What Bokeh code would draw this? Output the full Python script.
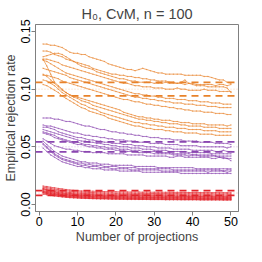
from bokeh.plotting import figure
from bokeh.models import Span, FixedTicker, PrintfTickFormatter
from bokeh.embed import file_html
from bokeh.resources import INLINE

projections = list(range(1, 51))

# rejection rates x 1000
orange_1 = [139,139,138,138,137,136,134,132,131,131, 130,130,128,127,126,125,124,122,121,120, 119,118,117,117,116,117,118,117,116,115, 114,114,113,113,113,113,113,112,112,112, 112,112,111,111,110,109,108,108,106,105]
orange_2 = [133,133,132,130,129,128,126,125,124,123, 122,121,120,118,117,116,115,114,113,113, 112,112,111,111,110,110,109,109,108,108, 107,107,107,106,106,105,106,108,105,104, 103,103,103,102,102,102,102,102,101,97]
orange_3 = [128,129,130,131,131,130,128,126,124,122, 120,119,118,117,115,114,113,112,111,110, 109,109,108,107,107,106,106,106,106,105, 105,105,106,105,105,105,105,104,105,105, 104,104,104,104,104,103,104,104,103,104]
orange_4 = [126,126,125,124,123,121,120,119,118,117, 116,115,114,113,112,111,110,109,108,107, 106,105,105,104,103,103,102,102,102,101, 101,101,100,100,100,101,100,100,99,99, 99,99,100,99,99,99,98,98,98,98]
orange_5 = [125,124,122,120,118,116,114,113,112,111, 110,109,108,107,106,105,104,103,102,101, 100,99,98,97,96,96,95,95,94,94, 93,93,92,92,92,91,91,91,90,90, 90,89,89,89,88,88,88,87,87,87]
orange_6 = [118,117,116,115,114,113,112,110,109,108, 107,106,105,104,103,102,101,100,99,98, 97,96,95,94,93,93,92,92,91,91, 90,90,89,89,88,88,88,87,87,87, 86,86,86,85,85,85,84,84,84,84]
orange_7 = [112,112,111,110,109,107,106,105,104,103, 102,101,100,99,98,97,96,95,94,93, 92,91,91,90,89,89,88,87,87,86, 86,85,85,84,84,83,83,82,82,81, 81,81,80,80,80,79,79,79,78,78]
orange_8 = [126,120,113,106,103,100,97,95,94,93, 92,91,90,89,88,87,86,85,84,83, 82,80,79,78,77,76,76,75,75,74, 74,73,73,73,72,72,71,71,71,70, 70,70,70,69,69,69,69,69,68,69]
orange_9 = [113,111,108,105,102,99,97,95,93,92, 90,89,88,86,85,84,83,82,81,80, 79,78,77,76,75,74,74,73,73,72, 72,71,71,70,70,70,69,69,68,68, 68,68,67,67,67,67,66,66,66,66]
orange_10 = [108,107,105,103,100,97,95,93,91,89, 87,86,84,83,82,80,79,78,77,76, 75,74,73,72,71,71,70,70,69,69, 68,68,67,67,67,66,66,66,65,65, 65,65,64,64,64,64,63,63,63,63]
orange_11 = [104,103,101,99,97,94,92,90,88,86, 84,83,81,80,79,78,77,75,74,73, 72,71,70,69,68,68,67,66,66,65, 65,65,64,64,63,63,63,62,62,62, 62,61,61,61,61,60,60,60,60,60]

purple_1 = [75,75,75,74,74,73,72,72,71,70, 69,68,68,67,66,65,65,64,63,63, 62,62,61,61,60,60,59,59,58,58, 58,57,57,57,56,56,56,55,55,55, 55,54,54,54,54,53,53,53,53,52]
purple_2 = [69,68,68,67,66,65,64,63,62,62, 61,60,60,59,59,58,58,57,57,56, 56,56,55,55,55,54,54,54,53,53, 53,53,52,52,52,52,51,51,51,51, 51,50,50,50,50,50,50,50,49,50]
purple_3 = [67,67,66,65,63,62,61,60,59,58, 58,57,56,56,55,55,54,54,53,53, 53,52,52,52,51,51,51,50,50,50, 49,49,49,49,48,48,48,48,48,47, 47,47,47,47,47,46,46,47,46,46]
purple_4 = [65,64,63,62,61,60,59,58,57,56, 55,55,54,54,53,53,52,52,51,51, 50,50,50,49,49,49,48,48,48,47, 47,47,47,46,46,46,46,46,45,45, 45,45,45,45,44,44,44,44,44,44]
purple_5 = [63,62,61,60,58,57,56,55,54,54, 53,52,52,51,51,50,50,49,49,49, 48,48,48,47,47,47,46,46,46,46, 45,45,45,45,44,44,44,44,44,43, 43,43,43,43,43,42,42,42,42,42]
purple_6 = [62,61,60,58,57,56,55,54,53,52, 52,51,50,50,49,49,48,48,48,47, 47,47,46,46,46,45,45,45,45,44, 44,44,44,44,43,43,43,43,42,43, 43,42,42,42,42,42,41,41,40,38]
purple_7 = [57,55,53,51,50,49,48,48,47,47, 46,46,46,45,45,45,45,44,44,44, 44,44,43,43,43,43,43,42,42,42, 42,42,42,41,41,42,42,41,41,41, 41,41,41,41,40,40,41,40,40,40]
purple_8 = [55,52,49,46,44,42,41,40,39,38, 37,37,36,36,36,35,35,35,34,34, 34,34,34,34,33,33,33,33,33,33, 32,32,32,32,32,32,32,32,32,32, 31,31,31,31,31,31,31,31,31,31]
purple_9 = [53,50,47,44,42,40,39,38,37,36, 36,35,35,34,34,34,33,33,33,33, 32,32,32,32,32,31,31,31,31,31, 31,31,31,31,30,30,30,30,30,30, 30,30,30,30,30,30,30,29,30,30]
purple_10 = [52,49,46,43,41,39,38,37,36,35, 34,34,33,33,33,32,32,32,31,31, 31,31,31,30,30,30,30,30,30,30, 30,29,29,29,29,29,29,29,29,29, 29,29,29,28,29,29,29,29,28,29]
purple_11 = [49,46,43,41,39,37,36,35,34,33, 33,32,32,31,31,31,30,30,30,30, 29,29,29,29,29,29,28,28,28,28, 28,28,28,28,28,28,27,27,27,27, 27,27,27,27,27,27,27,27,27,27]

red_1 = [16.0,15.6,15.0,14.5,14.0,13.6,13.0,12.6,12.3,12.0, 11.8,11.7,11.5,11.6,11.4,11.3,11.2,11.2,11.0,11.1, 11.0,10.9,10.9,10.8,10.9,10.8,10.7,10.8,10.7,10.7, 10.6,10.7,10.6,10.6,10.5,10.6,10.5,10.5,10.5,10.4, 10.5,10.4,10.4,10.4,10.3,10.4,10.3,10.3,10.3,10.2]
red_2 = [15.0,14.6,14.0,13.4,12.9,12.4,12.0,11.6,11.2,11.0, 10.8,10.6,10.5,10.4,10.3,10.2,10.1,10.1,10.0,9.9, 9.9,9.8,9.8,9.8,9.7,9.7,9.7,9.6,9.6,9.6, 9.6,9.5,9.5,9.5,9.5,9.5,9.4,9.4,9.4,9.4, 9.4,9.3,9.4,9.3,9.3,9.3,9.3,9.2,9.3,9.2]
red_3 = [14.0,13.5,13.0,12.4,11.8,11.3,10.9,10.5,10.2,10.0, 9.8,9.6,9.5,9.4,9.3,9.2,9.1,9.1,9.0,9.0, 8.9,8.9,8.8,8.8,8.8,8.7,8.7,8.7,8.6,8.6, 8.6,8.6,8.5,8.5,8.5,8.5,8.5,8.4,8.4,8.4, 8.4,8.4,8.3,8.4,8.3,8.3,8.3,8.3,8.2,8.3]
red_4 = [13.5,12.8,12.0,11.4,10.9,10.4,10.0,9.7,9.4,9.2, 9.0,8.9,8.7,8.6,8.5,8.4,8.3,8.3,8.2,8.1, 8.1,8.0,8.0,8.0,7.9,7.9,7.8,7.8,7.8,7.8, 7.7,7.7,7.7,7.7,7.6,7.6,7.6,7.6,7.6,7.5, 7.5,7.5,7.5,7.5,7.5,7.4,7.4,7.4,7.4,7.4]
red_5 = [13.0,12.2,11.4,10.8,10.2,9.8,9.4,9.1,8.8,8.6, 8.4,8.3,8.1,8.0,7.9,7.8,7.8,7.7,7.6,7.6, 7.5,7.5,7.4,7.4,7.4,7.3,7.3,7.3,7.2,7.2, 7.2,7.2,7.1,7.1,7.1,7.1,7.0,7.0,7.0,7.0, 7.0,7.0,6.9,6.9,6.9,6.9,6.9,6.9,6.8,6.8]
red_6 = [12.0,11.4,10.7,10.1,9.6,9.2,8.8,8.5,8.2,8.0, 7.8,7.7,7.5,7.4,7.3,7.2,7.1,7.1,7.0,6.9, 6.9,6.8,6.8,6.8,6.7,6.7,6.6,6.6,6.6,6.6, 6.5,6.5,6.5,6.5,6.4,6.4,6.4,6.4,6.4,6.3, 6.3,6.3,6.3,6.3,6.3,6.2,6.2,6.2,6.2,6.2]
red_7 = [11.5,10.8,10.1,9.5,9.0,8.6,8.2,7.9,7.7,7.5, 7.3,7.2,7.0,6.9,6.8,6.7,6.7,6.6,6.5,6.5, 6.4,6.4,6.3,6.3,6.3,6.2,6.2,6.2,6.1,6.1, 6.1,6.1,6.0,6.0,6.0,6.0,5.9,5.9,5.9,5.9, 5.9,5.8,5.8,5.8,5.8,5.8,5.8,5.7,5.7,5.7]
red_8 = [11.0,10.3,9.6,9.0,8.5,8.1,7.7,7.4,7.2,7.0, 6.8,6.7,6.5,6.4,6.3,6.2,6.2,6.1,6.0,6.0, 5.9,5.9,5.8,5.8,5.8,5.7,5.7,5.7,5.6,5.6, 5.6,5.6,5.5,5.5,5.5,5.5,5.4,5.4,5.4,5.4, 5.4,5.3,5.3,5.3,5.3,5.3,5.3,5.2,5.2,5.2]
red_9 = [10.5,9.8,9.1,8.5,8.0,7.6,7.2,6.9,6.7,6.5, 6.3,6.2,6.0,5.9,5.8,5.7,5.7,5.6,5.5,5.5, 5.4,5.4,5.3,5.3,5.3,5.2,5.2,5.2,5.1,5.1, 5.1,5.1,5.0,5.0,5.0,5.0,4.9,4.9,4.9,4.9, 4.9,4.8,4.8,4.8,4.8,4.8,4.8,4.7,4.7,4.7]
red_10 = [10.0,9.3,8.6,8.0,7.5,7.1,6.7,6.4,6.2,6.0, 5.8,5.7,5.5,5.4,5.3,5.2,5.2,5.1,5.0,5.0, 4.9,4.9,4.8,4.8,4.8,4.7,4.7,4.7,4.6,4.6, 4.6,4.6,4.5,4.5,4.5,4.5,4.4,4.4,4.4,4.4, 4.4,4.3,4.3,4.3,4.3,4.3,4.3,4.2,4.2,4.2]
red_11 = [9.0,8.5,7.9,7.4,7.0,6.6,6.3,6.0,5.8,5.6, 5.4,5.3,5.2,5.1,5.0,4.9,4.9,4.8,4.7,4.7, 4.6,4.6,4.5,4.5,4.5,4.4,4.4,4.4,4.3,4.3, 4.3,4.3,4.2,4.2,4.2,4.2,4.1,4.1,4.1,4.1, 4.1,4.0,4.0,4.0,4.0,4.0,4.0,3.9,3.9,3.9]

nominal_levels = [0.10, 0.05, 0.01]
ci_lower = [0.0941, 0.0457, 0.0080]
ci_upper = [0.1059, 0.0543, 0.0120]
level_colors = ["#E8822A", "#8A46B0", "#E3242B"]

orange_series = [orange_1, orange_2, orange_3, orange_4, orange_5, orange_6,
                 orange_7, orange_8, orange_9, orange_10, orange_11]
purple_series = [purple_1, purple_2, purple_3, purple_4, purple_5, purple_6,
                 purple_7, purple_8, purple_9, purple_10, purple_11]
red_series = [red_1, red_2, red_3, red_4, red_5, red_6, red_7, red_8,
              red_9, red_10, red_11]

FONT = "Liberation Sans"

p = figure(width=246, height=246, x_range=(-0.96, 51.96), y_range=(-0.006, 0.156),
           output_backend="svg", toolbar_location=None,
           min_border_left=0, min_border_right=8, min_border_top=22, min_border_bottom=31,
           title="H\u2080, CvM, n = 100")
p.title.text_font = FONT
p.title.text_font_size = "14.5px"
p.title.text_font_style = "normal"
p.title.align = "center"
p.title.standoff = 6

p.xgrid.grid_line_color = None
p.ygrid.grid_line_color = None
p.outline_line_color = "#808080"
p.outline_line_width = 1
p.background_fill_color = "white"

for grp, col in zip([orange_series, purple_series, red_series], level_colors):
    for s in grp:
        assert len(s) == 50
        ys = [v / 1000.0 for v in s]
        p.line(projections, ys, line_color=col, line_width=0.9, line_alpha=0.75)
        p.scatter(projections, ys, marker="circle", size=1.5, fill_color=col,
                  line_color=None, fill_alpha=0.6)

for lvl, lo, hi, col in zip(nominal_levels, ci_lower, ci_upper, level_colors):
    p.add_layout(Span(location=lvl, dimension="width", line_color=col,
                      line_alpha=0.35, line_width=1, line_dash="1 2"))
    for b in (lo, hi):
        p.add_layout(Span(location=b, dimension="width", line_color=col,
                          line_width=1.7, line_dash="7 5"))

p.xaxis.ticker = FixedTicker(ticks=[0, 10, 20, 30, 40, 50])
p.yaxis.ticker = FixedTicker(ticks=[0.0, 0.05, 0.10, 0.15])
p.yaxis.formatter = PrintfTickFormatter(format="%.2f")
p.yaxis.major_label_orientation = "vertical"
p.xaxis.axis_label = "Number of projections"
p.yaxis.axis_label = "Empirical rejection rate"
for ax in (p.xaxis, p.yaxis):
    ax.axis_label_text_font = FONT
    ax.axis_label_text_font_size = "12.5px"
    ax.axis_label_text_font_style = "normal"
    ax.major_label_text_font = FONT
    ax.major_label_text_font_size = "12.5px"
    ax.major_label_text_color = "black"
    ax.axis_line_color = "#808080"
    ax.major_tick_line_color = "#808080"
    ax.minor_tick_line_color = None
    ax.major_tick_out = 4
    ax.major_tick_in = 0
    ax.major_label_standoff = 1
    ax.axis_label_standoff = 1

open("out.html", "w").write(file_html(p, INLINE))
